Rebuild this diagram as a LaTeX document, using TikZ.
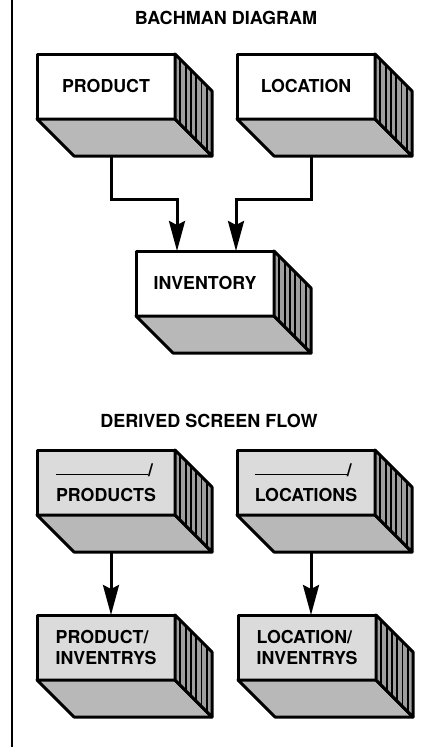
\documentclass[tikz,border=0pt]{standalone}
\usepackage{fontspec}
\setmainfont{TeX Gyre Heros}
\usetikzlibrary{calc,arrows.meta}
\definecolor{botgray}{gray}{0.72}
\definecolor{sidegray}{gray}{0.62}
\definecolor{lightfront}{gray}{0.86}
\tikzset{
  front/.style={draw, line width=3pt, line join=round, anchor=north west,
    minimum width=138pt, minimum height=65pt, inner sep=0pt, outer sep=0pt,
    font=\bfseries\fontsize{17.8}{21}\selectfont, align=left},
  face/.style={draw, line width=3pt, line join=round},
  stripe/.style={line width=1.8pt},
  arr/.style={line width=3pt, -{Stealth[length=30pt,width=16pt,inset=4pt]}},
  titletext/.style={font=\bfseries\fontsize{18}{21}\selectfont}
}
\newcommand{\solidbox}[5]{%
  \node[front, fill=#4] (#1) at (#2,#3) {#5};
  \draw[face, fill=botgray] (#1.south west) -- (#1.south east) -- ++(37,37)
     -- ($(#1.south west)+(37,37)$) -- cycle;
  \fill[sidegray] (#1.north east) -- ++(37,37) -- ($(#1.south east)+(37,37)$)
     -- (#1.south east) -- cycle;
  \foreach \t in {5.3,10.6,...,32} {
    \draw[stripe] ($(#1.north east)+(\t,\t)$) -- ($(#1.south east)+(\t,\t)$);
  }
  \draw[face] (#1.north east) -- ++(37,37) -- ($(#1.south east)+(37,37)$)
     -- (#1.south east) -- cycle;
  \coordinate (#1-out) at ($(#1.south)+(5,37)$);
}
\begin{document}
\begin{tikzpicture}[x=1pt,y=-1pt]
\useasboundingbox (0,0) rectangle (424,747);
\fill[white] (0,0) rectangle (424,747);
\draw[line width=2pt] (12,0) -- (12,747);

\node[titletext] (t1) at (226,18) {BACHMAN DIAGRAM};
\node[titletext] (t2) at (209,421) {DERIVED SCREEN FLOW};

\solidbox{product}{37}{54}{white}{PRODUCT}
\solidbox{location}{237}{54}{white}{LOCATION}
\solidbox{inventory}{136}{251}{white}{INVENTORY}

\solidbox{products}{37}{450}{lightfront}{\rule[1pt]{92pt}{1.5pt}/\\[4pt]PRODUCTS}
\solidbox{locations}{237}{450}{lightfront}{\rule[1pt]{92pt}{1.5pt}/\\[4pt]LOCATIONS}
\solidbox{prodinv}{37}{615}{lightfront}{PRODUCT/\\INVENTRYS}
\solidbox{locinv}{238}{615}{lightfront}{LOCATION/\\INVENTRYS}

\draw[arr] (product-out) -- ++(0,43) -| ($(inventory.north west)+(41,0)$);
\draw[arr] (location-out) -- ++(0,43) -| ($(inventory.north west)+(100,0)$);
\draw[arr] (products-out) -- (products-out |- prodinv.north);
\draw[arr] (locations-out) -- (locations-out |- locinv.north);
\end{tikzpicture}
\end{document}
